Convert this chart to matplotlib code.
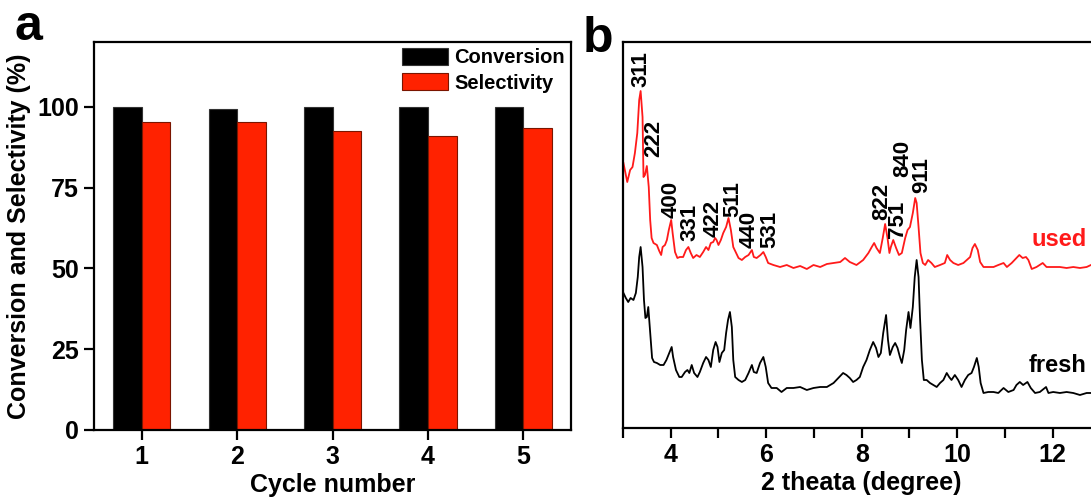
import matplotlib
matplotlib.use('Agg')
import matplotlib.pyplot as plt
from matplotlib.ticker import MultipleLocator
import numpy as np

plt.rcParams['font.family'] = ['Liberation Sans', 'DejaVu Sans']
plt.rcParams['font.weight'] = 'bold'
plt.rcParams['axes.linewidth'] = 1.6

# panel a: recycling test
cycles = [1, 2, 3, 4, 5]
conversion = [99.8, 99.4, 99.8, 99.8, 99.8]
selectivity = [95.4, 95.4, 92.4, 90.9, 93.4]

# panel b: XRD patterns (a.u.)
used_2theta = [3.01, 3.09, 3.15, 3.20, 3.25, 3.30, 3.34, 3.37, 3.41, 3.43,
               3.46, 3.50, 3.54, 3.57, 3.60, 3.64, 3.71, 3.76, 3.80, 3.83,
               3.88, 3.92, 3.96, 4.01, 4.04, 4.09, 4.14, 4.19, 4.26, 4.32,
               4.37, 4.42, 4.47, 4.54, 4.61, 4.68, 4.74, 4.79, 4.84, 4.89,
               4.93, 4.96, 5.00, 5.05, 5.10, 5.16, 5.21, 5.26, 5.31, 5.37,
               5.42, 5.49, 5.56, 5.63, 5.70, 5.74, 5.80, 5.88, 5.94, 5.99,
               6.04, 6.15, 6.29, 6.43, 6.57, 6.71, 6.85, 6.99, 7.13, 7.27,
               7.41, 7.55, 7.65, 7.75, 7.89, 8.03, 8.14, 8.21, 8.26, 8.31,
               8.38, 8.44, 8.49, 8.54, 8.58, 8.61, 8.66, 8.72, 8.78, 8.84,
               8.91, 8.96, 9.01, 9.07, 9.12, 9.15, 9.19, 9.23, 9.28, 9.33,
               9.39, 9.46, 9.53, 9.64, 9.74, 9.79, 9.85, 9.92, 10.02, 10.13,
               10.20, 10.27, 10.32, 10.37, 10.43, 10.48, 10.55, 10.65, 10.76, 10.86,
               10.97, 11.04, 11.14, 11.24, 11.30, 11.37, 11.44, 11.49, 11.56, 11.66,
               11.79, 11.87, 12.01, 12.15, 12.29, 12.43, 12.57, 12.71, 12.80]
used_int = [265, 246, 258, 261, 275, 295, 328, 337, 311, 251,
            253, 262, 241, 208, 190, 185, 183, 177, 173, 181,
            183, 188, 198, 208, 195, 176, 170, 171, 171, 178,
            181, 175, 170, 173, 171, 176, 181, 178, 185, 186,
            190, 188, 183, 188, 195, 201, 210, 198, 181, 175,
            170, 168, 171, 173, 178, 171, 170, 173, 176, 171,
            165, 163, 161, 163, 160, 162, 159, 163, 161, 164,
            165, 166, 170, 166, 163, 168, 175, 181, 185, 180,
            175, 190, 204, 190, 175, 181, 188, 180, 173, 175,
            190, 198, 201, 215, 230, 225, 201, 175, 165, 163,
            168, 165, 161, 163, 165, 173, 168, 165, 163, 165,
            168, 171, 180, 184, 178, 166, 161, 161, 161, 163,
            165, 161, 165, 170, 173, 170, 171, 168, 159, 161,
            165, 161, 161, 161, 160, 161, 160, 161, 163]

fresh_2theta = [3.01, 3.06, 3.11, 3.16, 3.22, 3.27, 3.31, 3.34, 3.37, 3.41,
                3.44, 3.47, 3.50, 3.53, 3.55, 3.58, 3.61, 3.65, 3.71, 3.78,
                3.85, 3.91, 3.97, 4.02, 4.05, 4.11, 4.18, 4.23, 4.30, 4.35,
                4.39, 4.44, 4.49, 4.56, 4.61, 4.68, 4.74, 4.79, 4.84, 4.89,
                4.94, 4.98, 5.02, 5.07, 5.12, 5.16, 5.20, 5.24, 5.28, 5.31,
                5.35, 5.42, 5.49, 5.56, 5.63, 5.70, 5.74, 5.80, 5.87, 5.94,
                5.99, 6.04, 6.11, 6.22, 6.32, 6.43, 6.57, 6.71, 6.85, 6.99,
                7.13, 7.27, 7.41, 7.51, 7.61, 7.68, 7.75, 7.82, 7.89, 7.96,
                8.03, 8.10, 8.17, 8.24, 8.30, 8.35, 8.40, 8.45, 8.51, 8.55,
                8.59, 8.65, 8.70, 8.75, 8.80, 8.84, 8.89, 8.93, 8.98, 9.02,
                9.07, 9.11, 9.15, 9.19, 9.22, 9.26, 9.30, 9.36, 9.43, 9.50,
                9.57, 9.64, 9.71, 9.78, 9.83, 9.88, 9.95, 10.02, 10.09, 10.16,
                10.23, 10.30, 10.35, 10.41, 10.45, 10.49, 10.55, 10.65, 10.76, 10.86,
                10.97, 11.07, 11.18, 11.24, 11.31, 11.38, 11.47, 11.54, 11.63, 11.73,
                11.86, 11.91, 12.01, 12.15, 12.29, 12.43, 12.57, 12.71, 12.80]
fresh_int = [135, 130, 126, 130, 128, 135, 151, 171, 181, 161,
             128, 110, 111, 121, 108, 88, 70, 66, 65, 63,
             63, 68, 75, 81, 71, 58, 51, 51, 56, 58,
             55, 63, 55, 51, 56, 65, 71, 68, 61, 78,
             86, 81, 66, 75, 78, 95, 108, 116, 101, 68,
             51, 48, 46, 48, 55, 63, 56, 55, 65, 71,
             61, 45, 40, 40, 36, 40, 40, 41, 38, 40,
             41, 41, 45, 50, 55, 53, 50, 46, 48, 51,
             61, 68, 78, 86, 80, 71, 75, 95, 113, 88,
             73, 81, 85, 80, 71, 65, 78, 98, 116, 100,
             121, 151, 168, 151, 111, 68, 48, 48, 45, 43,
             41, 45, 48, 55, 51, 48, 53, 48, 41, 48,
             53, 55, 61, 70, 61, 45, 35, 36, 36, 35,
             40, 36, 38, 43, 46, 43, 46, 40, 35, 36,
             41, 35, 36, 35, 36, 35, 33, 35, 35]

peak_labels = ['311', '222', '400', '331', '422', '511', '440', '531',
               '822', '751', '840', '911']
peak_2theta = [3.38, 3.64, 4.00, 4.40, 4.89, 5.31, 5.64, 6.07,
               8.42, 8.75, 8.85, 9.26]
peak_height = [341, 271, 210, 187, 191, 211, 180, 180,
               208, 190, 251, 235]

RED = '#ff2200'

fig = plt.figure(figsize=(10.91, 4.99), dpi=100)

# ---- panel a ----
ax1 = fig.add_axes([0.0862, 0.1383, 0.4372, 0.7775])
x = np.array(cycles)
w = 0.3
ax1.bar(x - w / 2, conversion, w, color='black', edgecolor='#333333',
        linewidth=0.8, label='Conversion')
ax1.bar(x + w / 2, selectivity, w, color=RED, edgecolor='#7a1500',
        linewidth=0.8, label='Selectivity')
ax1.set_xlim(0.5, 5.5)
ax1.set_ylim(0, 120)
ax1.set_xticks(cycles)
ax1.set_yticks([0, 25, 50, 75, 100])
ax1.tick_params(direction='out', length=7, width=1.6, labelsize=18, pad=4)
ax1.set_xlabel('Cycle number', fontsize=18, fontweight='bold', labelpad=3)
ax1.set_ylabel('Conversion and Selectivity (%)', fontsize=18,
               fontweight='bold', labelpad=4)
ax1.legend(loc='upper right', frameon=False, fontsize=14.5,
           handlelength=2.3, handleheight=0.9, handletextpad=0.3,
           labelspacing=0.3, borderpad=0.1, borderaxespad=0.2)

# ---- panel b ----
ax2 = fig.add_axes([0.571, 0.1423, 0.4377, 0.7735])
ax2.plot(fresh_2theta, fresh_int, color='black', lw=1.3)
ax2.plot(used_2theta, used_int, color='#ff1a1a', lw=1.3)
for lab, px, py in zip(peak_labels, peak_2theta, peak_height):
    ax2.text(px, py, lab, rotation=90, ha='center', va='bottom',
             fontsize=16, fontweight='bold')
ax2.text(12.71, 189, 'used', color='#ff1a1a', ha='right', va='center',
         fontsize=17, fontweight='bold')
ax2.text(12.71, 62, 'fresh', color='black', ha='right', va='center',
         fontsize=17, fontweight='bold')
ax2.set_xlim(3, 13)
ax2.set_ylim(0, 386)
ax2.set_yticks([])
ax2.xaxis.set_major_locator(MultipleLocator(2))
ax2.xaxis.set_minor_locator(MultipleLocator(1))
ax2.tick_params(axis='x', which='both', direction='out', length=7,
                width=1.6, labelsize=18, pad=4)
ax2.set_xlabel('2 theata (degree)', fontsize=18, fontweight='bold',
               labelpad=3)

fig.text(0.013, 0.92, 'a', fontsize=36, fontweight='bold', va='baseline')
fig.text(0.534, 0.895, 'b', fontsize=36, fontweight='bold', va='baseline')

fig.savefig('out.png', dpi=100)
